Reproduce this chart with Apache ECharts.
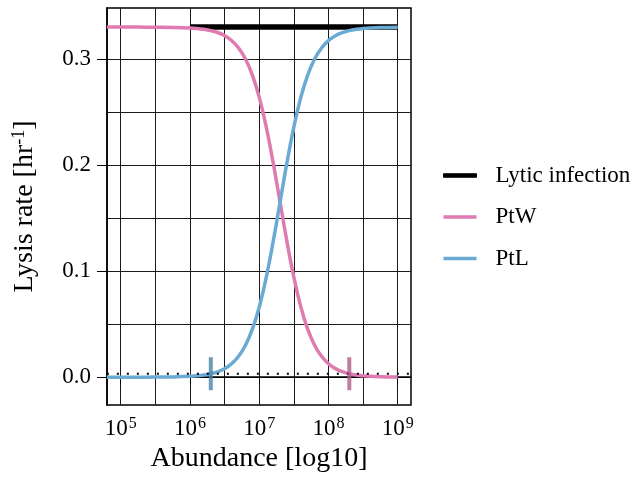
<!DOCTYPE html>
<html>
<head>
<meta charset="utf-8">
<script src="https://cdn.jsdelivr.net/npm/echarts@6/dist/echarts.min.js"></script>
<style>
  html, body { margin: 0; padding: 0; background: #fff; }
  #chart { width: 632px; height: 478px; }
</style>
</head>
<body>
<div id="chart"></div>
<script>
// Abundance on a log10 scale (x) and lysis rate in hr^-1 (y)
const logAbundance = [4.8, 5.0, 5.25, 5.5, 5.75, 6.0, 6.1, 6.2, 6.3, 6.4, 6.5, 6.6, 6.7, 6.8, 6.9,
  7.0, 7.1, 7.2, 7.3, 7.4, 7.5, 7.6, 7.7, 7.8, 7.9, 8.0, 8.1, 8.2, 8.3, 8.4, 8.5, 8.6, 8.75, 9.0];
const ptW = [0.3300, 0.3300, 0.3300, 0.3299, 0.3297, 0.3292, 0.3287, 0.3279, 0.3267, 0.3249,
  0.3220, 0.3174, 0.3105, 0.3001, 0.2850, 0.2640, 0.2363, 0.2027, 0.1654, 0.1280, 0.0943,
  0.0665, 0.0453, 0.0301, 0.0197, 0.0127, 0.0081, 0.0052, 0.0033, 0.0021, 0.0013, 0.0008,
  0.0004, 0.0001];
const ptL = [0.0000, 0.0000, 0.0000, 0.0001, 0.0003, 0.0008, 0.0013, 0.0021, 0.0033, 0.0051,
  0.0080, 0.0126, 0.0195, 0.0299, 0.0450, 0.0660, 0.0937, 0.1273, 0.1646, 0.2020, 0.2357,
  0.2635, 0.2847, 0.2999, 0.3103, 0.3173, 0.3219, 0.3248, 0.3267, 0.3279, 0.3287, 0.3292,
  0.3296, 0.3299];
const lyticX = [6.0, 9.0];
const lyticRate = [0.33, 0.33];
const thresholdX = [4.8, 9.2];
const thresholdRate = [0.0033, 0.0033];
const ptLMarkX = [6.301];
const ptWMarkX = [8.301];
const markRate = [0.0033];
const xTickDecades = [5, 6, 7, 8, 9];
const yTickValues = [0.0, 0.1, 0.2, 0.3];

const FONT = 'Liberation Serif';
const pair = (xs, ys) => xs.map((x, i) => [x, ys[i]]);

const chart = echarts.init(document.getElementById('chart'), null, { renderer: 'canvas' });

const gridLine = { show: true, lineStyle: { color: '#1a1a1a', width: 1 } };

chart.setOption({
  animation: false,
  backgroundColor: '#fff',
  textStyle: { fontFamily: FONT, color: '#000' },
  grid: {
    left: 107, top: 8, right: 221, bottom: 70,
    show: true, borderColor: '#000', borderWidth: 1.5, containLabel: false
  },
  legend: {
    orient: 'vertical',
    left: 438, top: 159,
    icon: 'rect',
    itemWidth: 33, itemHeight: 3.5, itemGap: 18.5,
    textStyle: { fontFamily: FONT, fontSize: 23, color: '#000', padding: [0, 0, 0, 14] },
    data: [
      { name: 'Lytic infection', itemStyle: { color: '#000', borderColor: '#000', borderWidth: 1 } },
      { name: 'PtW' },
      { name: 'PtL' }
    ]
  },
  xAxis: {
    type: 'value',
    min: 4.802, max: 9.192,
    splitNumber: 4, minInterval: 1, maxInterval: 1,
    name: 'Abundance [log10]',
    nameLocation: 'middle', nameGap: 40,
    nameTextStyle: { fontFamily: FONT, fontSize: 28, color: '#000' },
    axisLine: { show: true, lineStyle: { color: '#000', width: 1.5 } },
    axisTick: { show: true, length: 7, customValues: xTickDecades, lineStyle: { color: '#000', width: 1 } },
    minorTick: { show: false, splitNumber: 2 },
    splitLine: gridLine,
    minorSplitLine: gridLine,
    axisLabel: {
      margin: 11,
      customValues: xTickDecades,
      formatter: v => '{b|10}{s|' + Math.round(v) + '}',
      rich: {
        b: { fontFamily: FONT, fontSize: 23, color: '#000', verticalAlign: 'bottom' },
        s: { fontFamily: FONT, fontSize: 16, color: '#000', verticalAlign: 'bottom', padding: [0, 0, 8, 1] }
      }
    }
  },
  yAxis: {
    type: 'value',
    min: -0.0262, max: 0.348,
    splitNumber: 4, minInterval: 0.1, maxInterval: 0.1,
    name: '{t|Lysis rate [hr}{s|-1}{t|]}',
    nameLocation: 'middle', nameGap: 68, nameRotate: 90,
    nameTextStyle: {
      rich: {
        t: { fontFamily: FONT, fontSize: 28, color: '#000', verticalAlign: 'bottom' },
        s: { fontFamily: FONT, fontSize: 18, color: '#000', verticalAlign: 'bottom', padding: [0, 0, 11, 0] }
      }
    },
    axisLine: { show: true, lineStyle: { color: '#000', width: 1.5 } },
    axisTick: { show: true, length: 10, customValues: yTickValues, lineStyle: { color: '#000', width: 1 } },
    minorTick: { show: false, splitNumber: 2 },
    splitLine: gridLine,
    minorSplitLine: gridLine,
    axisLabel: {
      margin: 16,
      customValues: yTickValues,
      fontFamily: FONT, fontSize: 23, color: '#000',
      formatter: v => Math.abs(v).toFixed(1)
    }
  },
  series: [
    {
      name: 'Lytic infection', type: 'line', symbol: 'none',
      data: pair(lyticX, lyticRate),
      lineStyle: { color: '#000', width: 5.5 }, itemStyle: { color: '#000' }, z: 2
    },
    {
      name: 'PtW', type: 'line', symbol: 'none', smooth: 0.4,
      data: pair(logAbundance, ptW),
      lineStyle: { color: '#df7bb1', width: 3.5 }, itemStyle: { color: '#df7bb1' }, z: 3
    },
    {
      name: 'PtL', type: 'line', symbol: 'none', smooth: 0.4,
      data: pair(logAbundance, ptL),
      lineStyle: { color: '#6aaad4', width: 3.5 }, itemStyle: { color: '#6aaad4' }, z: 3
    },
    {
      name: 'threshold', type: 'line', symbol: 'none',
      data: pair(thresholdX, thresholdRate),
      lineStyle: { color: '#000', width: 2, type: [2, 8], cap: 'butt' }, z: 4
    },
    {
      name: 'PtL threshold', type: 'scatter', symbol: 'rect', symbolSize: [4, 33],
      data: pair(ptLMarkX, markRate),
      itemStyle: { color: '#4a82a8' }, z: 5
    },
    {
      name: 'PtW threshold', type: 'scatter', symbol: 'rect', symbolSize: [4, 33],
      data: pair(ptWMarkX, markRate),
      itemStyle: { color: '#ad5c8a' }, z: 5
    }
  ]
});
</script>
</body>
</html>
